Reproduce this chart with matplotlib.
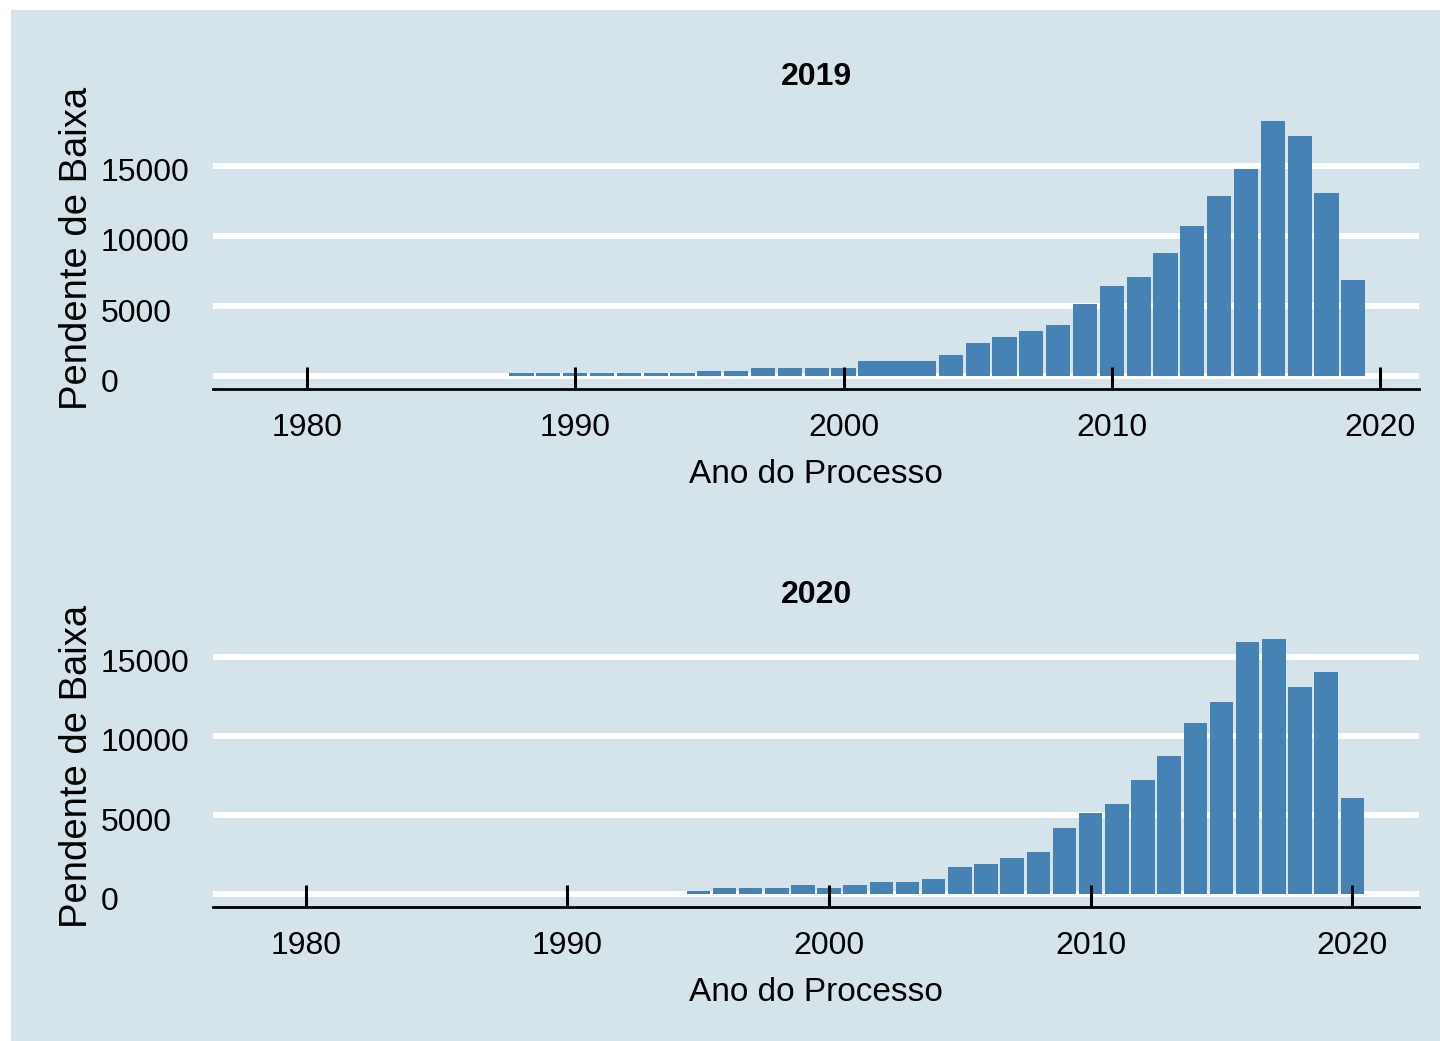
import matplotlib
matplotlib.use("Agg")
import matplotlib.pyplot as plt
from matplotlib.transforms import ScaledTranslation

plt.rcParams['font.family'] = ['Liberation Sans', 'DejaVu Sans']

# ---- data ----
years_2019 = [1988, 1989, 1990, 1991, 1992, 1993, 1994, 1995, 1996, 1997, 1998,
              1999, 2000, 2002, 2004, 2005, 2006, 2007, 2008, 2009, 2010, 2011,
              2012, 2013, 2014, 2015, 2016, 2017, 2018, 2019]
values_2019 = [210, 210, 210, 210, 210, 210, 210, 400, 400, 620, 620,
               620, 620, 1050, 1500, 2356, 2785, 3210, 3640, 5140, 6430, 7070,
               8780, 10710, 12850, 14780, 18200, 17140, 13070, 6850]

years_2020 = [1995, 1996, 1997, 1998, 1999, 2000, 2001, 2002, 2003, 2004, 2005,
              2006, 2007, 2008, 2009, 2010, 2011, 2012, 2013, 2014, 2015, 2016,
              2017, 2018, 2019, 2020]
values_2020 = [190, 380, 380, 380, 570, 380, 570, 760, 760, 950, 1709,
               1899, 2278, 2658, 4177, 5127, 5696, 7215, 8734, 10823, 12152, 15949,
               16139, 13101, 14050, 6076]

panel_titles = ["2019", "2020"]
x_ticks = [1980, 1990, 2000, 2010, 2020]
y_ticks = [0, 5000, 10000, 15000]
x_label = "Ano do Processo"
y_label = "Pendente de Baixa"

BG = "#d5e4eb"
BAR = "#4682b4"
W, H = 1440, 1041

fig = plt.figure(figsize=(W / 100, H / 100), dpi=100, facecolor="white")
bgax = fig.add_axes([11 / W, 0, 1 - 11 / W, (H - 10) / H], zorder=-5)
bgax.set_facecolor(BG)
bgax.set_xticks([])
bgax.set_yticks([])
for s in bgax.spines.values():
    s.set_visible(False)


def px_axes(left, top, right, bottom):
    return fig.add_axes([left / W, 1 - bottom / H, (right - left) / W, (bottom - top) / H],
                        zorder=2)


panels = [
    (years_2019, values_2019, (213, 108, 1419, 389), (1976.5, 2021.45)),
    (years_2020, values_2020, (213, 626, 1419, 907), (1976.45, 2022.55)),
]

FS = 23
down = ScaledTranslation(0, -4 / 100, fig.dpi_scale_trans)
for (years, vals, box, xl), title in zip(panels, panel_titles):
    ax = px_axes(*box)
    ax.set_facecolor("none")
    widths = [2.9 if (title == "2019" and y == 2002) else 0.9 for y in years]
    ax.bar(years, vals, width=widths, color=BAR, edgecolor="none", zorder=3)
    vmax = max(vals)
    ax.set_ylim(-0.05 * vmax, 1.05 * vmax)
    ax.set_xlim(*xl)
    ax.set_xticks(x_ticks)
    ax.set_yticks(y_ticks)
    ax.set_xticklabels([str(t) for t in x_ticks], fontsize=FS)
    ax.set_yticklabels([str(t) for t in y_ticks], fontsize=FS)
    for s in ["left", "right", "top"]:
        ax.spines[s].set_visible(False)
    ax.spines["bottom"].set_color("black")
    ax.spines["bottom"].set_linewidth(2.0)
    ax.spines["bottom"].set_zorder(4)
    ax.yaxis.grid(True, color="white", linewidth=4.3)
    ax.xaxis.grid(False)
    ax.set_axisbelow(True)
    ax.xaxis.set_zorder(4)
    ax.tick_params(axis="x", direction="in", length=15.5, width=2.2, color="black",
                   pad=17, labelcolor="black")
    ax.tick_params(axis="y", length=0, pad=80.6, labelcolor="black")
    for lab in ax.get_yticklabels():
        lab.set_horizontalalignment("left")
        lab.set_transform(lab.get_transform() + down)
    ax.set_title(title, fontsize=FS, fontweight="bold", pad=16.6)
    ax.set_xlabel(x_label, fontsize=24)
    ax.xaxis.set_label_coords(0.5, -70 / 281)
    ax.set_ylabel(y_label, fontsize=27.5)
    ax.yaxis.set_label_coords(-118 / 1206, 0.5)

fig.savefig("out.png", dpi=100, facecolor="white")
